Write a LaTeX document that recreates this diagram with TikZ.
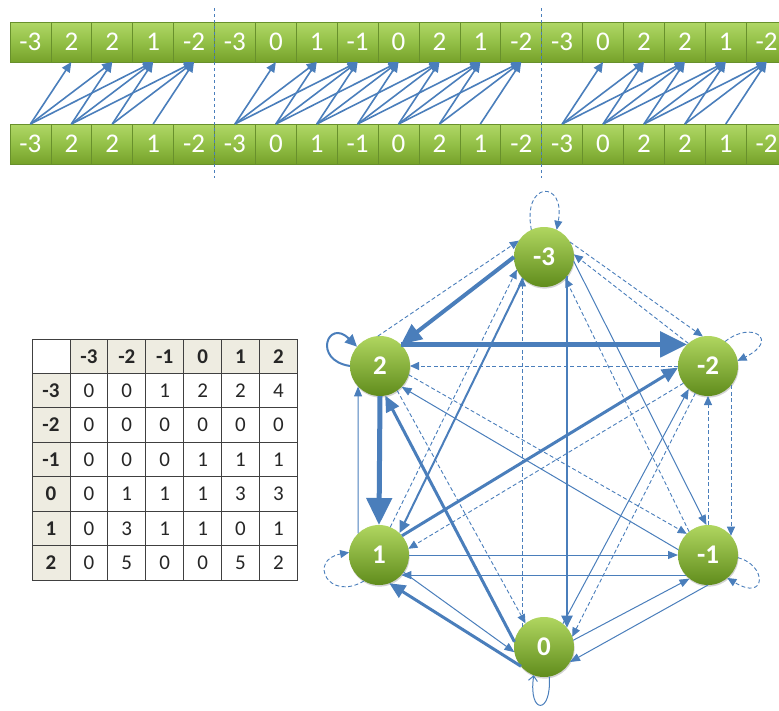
\documentclass[tikz,border=0pt]{standalone}
\usepackage{fontspec}
\setmainfont{Carlito}
\usetikzlibrary{arrows.meta,shadows}
\definecolor{edgeblue}{RGB}{74,126,187}
\definecolor{celltop}{RGB}{176,215,102}
\definecolor{cellmid}{RGB}{147,192,71}
\definecolor{cellbot}{RGB}{118,161,42}
\definecolor{celledge}{RGB}{104,144,44}
\definecolor{balltop}{RGB}{176,214,96}
\definecolor{ballbot}{RGB}{96,140,28}
\definecolor{headfill}{RGB}{238,236,225}
\definecolor{gridline}{RGB}{64,64,64}
\definecolor{celltext}{RGB}{38,38,38}

\begin{document}
\begin{tikzpicture}[x=1pt,y=-1pt,
  cell/.style={rectangle, minimum width=40.9pt, minimum height=40pt,
    inner sep=0pt, outer sep=0pt, draw=celledge, line width=0.7pt,
    top color=celltop, bottom color=cellbot, middle color=cellmid,
    text=white, font=\fontsize{27}{27}\selectfont},
  seq/.style={edgeblue, line width=1.6pt, -{Triangle[length=10pt,width=9pt]}},
  cut/.style={edgeblue, line width=0.9pt, dash pattern=on 3pt off 3pt},
  state/.style={circle, minimum size=60pt, inner sep=0pt, outer sep=0pt,
    top color=balltop, bottom color=ballbot, text=white,
    font=\bfseries\fontsize{27}{27}\selectfont,
    drop shadow={shadow xshift=0.6pt, shadow yshift=-1.6pt, opacity=0.35}},
  e0/.style={edgeblue, line width=0.9pt, dash pattern=on 4pt off 2.5pt,
    -{Triangle[length=9pt,width=8pt]}},
  e1/.style={edgeblue, line width=1pt, -{Triangle[length=10pt,width=8pt]}},
  e2/.style={edgeblue, line width=2pt, -{Triangle[length=12pt,width=11pt]}},
  e3/.style={edgeblue, line width=3pt, -{Triangle[length=16pt,width=14pt]}},
  e4/.style={edgeblue, line width=4pt, -{Triangle[length=21pt,width=18pt]}},
  e5/.style={edgeblue, line width=5pt, -{Triangle[length=27pt,width=25pt]}},
  tcell/.style={rectangle, draw=gridline, line width=0.8pt,
    minimum width=37.9pt, minimum height=34.43pt, inner sep=0pt, outer sep=0pt,
    text=celltext, font=\fontsize{21}{21}\selectfont},
  thead/.style={tcell, fill=headfill, font=\bfseries\fontsize{21}{21}\selectfont}
]
\useasboundingbox (0,0) rectangle (779,710);

% ---- sequence strips ----
\foreach \v [count=\i from 0] in {-3,2,2,1,-2,-3,0,1,-1,0,2,1,-2,-3,0,2,2,1,-2}{
  \node[cell] (t\i) at ({30.45+40.9*\i},42) {\v};
  \node[cell] (b\i) at ({30.45+40.9*\i},144) {\v};
}
% transitions within a window of three steps, per segment
\foreach \sa/\sb in {0/4,5/12,13/18}{
  \pgfmathtruncatemacro\last{\sb-1}
  \foreach \i in {\sa,...,\last}{
    \pgfmathtruncatemacro\lo{\i+1}
    \pgfmathtruncatemacro\hi{min(\i+3,\sb)}
    \foreach \j in {\lo,...,\hi}{
      \draw[seq] (b\i.north) -- (t\j.south);
    }
  }
}
% segment separators
\coordinate (cutAtop) at (214.5,8);  \coordinate (cutAbot) at (214.5,178);
\coordinate (cutBtop) at (541.7,8);  \coordinate (cutBbot) at (541.7,178);
\draw[cut] (cutAtop) -- (cutAbot);
\draw[cut] (cutBtop) -- (cutBbot);

% ---- count table ----
\node[tcell, minimum width=38pt] (h0) at (51,356.2) {};
\foreach \lab [count=\k] in {-3,-2,-1,0,1,2}{
  \node[thead] (h\k) at ({51+37.9*\k},356.2) {\lab};
}
\foreach \r/\lab/\va/\vb/\vc/\vd/\ve/\vf in {
    1/-3/0/0/1/2/2/4, 2/-2/0/0/0/0/0/0, 3/-1/0/0/0/1/1/1,
    4/0/0/1/1/1/3/3, 5/1/0/3/1/1/0/1, 6/2/0/5/0/0/5/2}{
  \pgfmathsetmacro\yy{339+34.43*(\r+0.5)}
  \node[thead, minimum width=38pt] (r\r) at (51,\yy) {\lab};
  \foreach \v [count=\k] in {\va,\vb,\vc,\vd,\ve,\vf}{
    \node[tcell] (d\r-\k) at ({51+37.9*\k},\yy) {\v};
  }
}

% ---- transition graph ----
\node[state] (vm3) at (544,257) {-3};
\node[state] (vm2) at (708,366) {-2};
\node[state] (vm1) at (708,555) {-1};
\node[state] (v0)  at (544,647) {0};
\node[state] (v1)  at (379,555) {1};
\node[state] (v2)  at (380,366) {2};

% from -3
\draw[e0] (vm3.30) -- (vm2.100);
\draw[e1] (vm3.352) -- (vm1.93);
\draw[e2] (vm3.320) -- (v0.40);
\draw[e2] (vm3.226) -- (v1.47);
\draw[e4] (vm3.180) -- (v2.46);
\draw[e0] (vm3.115) .. controls (522,180) and (566,180) .. (vm3.65);
% from -2
\draw[e0] (vm2.131) -- (vm3.5);
\draw[e0] (vm2.320) -- (vm1.40);
\draw[e0] (vm2.245) -- (v0.20);
\draw[e0] (vm2.215) -- (v1.12);
\draw[e0] (vm2.180) -- (v2.0);
\draw[e0] (vm2.55) .. controls (752,320) and (780,340) .. (vm2.10);
% from -1
\draw[e0] (vm1.129) -- (vm3.315);
\draw[e0] (vm1.90) -- (vm2.270);
\draw[e0] (vm1.355) .. controls (767,565) and (767,602) .. (vm1.310);
\draw[e1] (vm1.270) -- (v0.330);
\draw[e1] (vm1.222) -- (v1.318);
\draw[e1] (vm1.170) -- (v2.316);
% from 0
\draw[e0] (v0.137) -- (vm3.223);
\draw[e1] (v0.51) -- (vm2.230);
\draw[e1] (v0.13) -- (vm1.232);
\draw[edgeblue, line width=1pt, -{Straight Barb[length=5pt,width=9pt]}]
  (v0.280) .. controls (552,715) and (528,715) .. (v0.250);
\draw[e3] (v0.220) -- (v1.290);
\draw[e3] (v0.170) -- (v2.280);
% from 1
\draw[e0] (v1.68) -- (vm3.205);
\draw[e3] (v1.40) -- (vm2.183);
\draw[e1] (v1.0) -- (vm1.180);
\draw[e1] (v1.325) -- (v0.190);
\draw[e0] (v1.240) .. controls (328,602) and (308,560) .. (v1.175);
\draw[e1] (v1.134) -- (v2.223);
% from 2
\draw[e0] (v2.94) -- (vm3.147);
\draw[e5] (v2.46) -- (vm2.134);
\draw[e0] (v2.343) -- (vm1.135);
\draw[e0] (v2.305) -- (v0.128);
\draw[e5] (v2.270) -- (v1.90);
\draw[e2] (v2.180) .. controls (312,360) and (328,318) .. (v2.140);
\end{tikzpicture}
\end{document}
